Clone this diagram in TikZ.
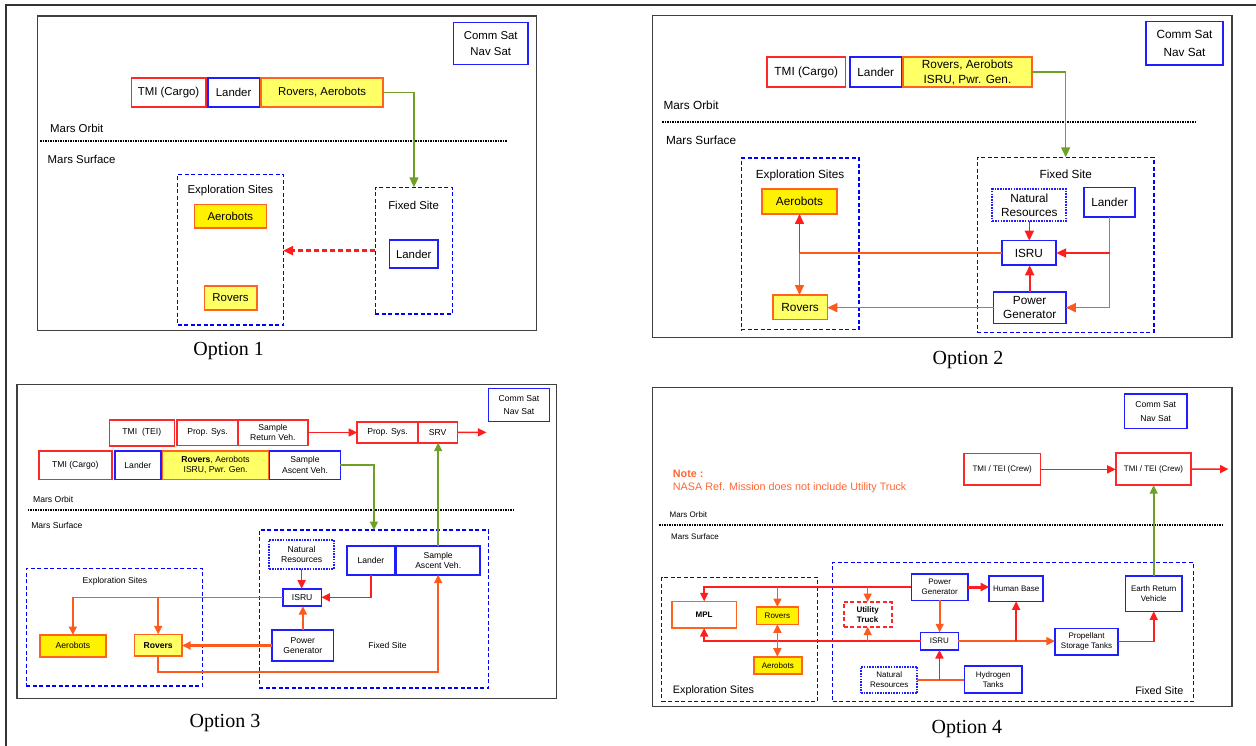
\documentclass[tikz,border=0pt]{standalone}
\usepackage{fontspec}
\setmainfont{Liberation Sans}
\newfontfamily\serfont{Liberation Serif}
\usetikzlibrary{arrows.meta,calc}
\definecolor{bred}{RGB}{255,40,40}
\definecolor{bblue}{RGB}{30,30,255}
\definecolor{sblue}{RGB}{0,0,255}
\definecolor{yorange}{RGB}{255,100,30}
\definecolor{lyellow}{RGB}{255,255,102}
\definecolor{agreen}{RGB}{110,160,40}
\definecolor{ared}{RGB}{255,30,30}
\definecolor{aorange}{RGB}{255,90,30}
\definecolor{notec}{RGB}{255,102,51}
\newcommand\fsA{\fontsize{11.4}{13.5}\selectfont}
\newcommand\fsB{\fontsize{11.8}{14}\selectfont}
\newcommand\fsC{\fontsize{8.6}{10.2}\selectfont}
\newcommand\fsD{\fontsize{8}{10}\selectfont}
\newcommand\mybox[7]{\node[#1,inner sep=0pt,outer sep=0pt,anchor=center,
  minimum width={(#5)-(#3)},minimum height={(#6)-(#4)}] (#2) at ({((#3)+(#5))/2},{((#4)+(#6))/2}) {#7};}
\begin{document}
\begin{tikzpicture}[x=1pt,y=-1pt,
 >={Triangle[length=10pt,width=9pt]},
 panel/.style={draw=black!75,line width=1.5pt},
 rb/.style={draw=bred,line width=1.6pt,align=center},
 bb/.style={draw=bblue,line width=1.6pt,align=center},
 yb/.style={draw=yorange,fill=yellow,line width=1.6pt,align=center},
 lyb/.style={draw=yorange,fill=lyellow,line width=1.6pt,align=center},
 ob/.style={draw=yorange,fill=white,line width=1.6pt,align=center},
 site/.style={draw=sblue,line width=1.3pt,dash pattern=on 4pt off 2.5pt},
 nat/.style={draw=bblue,line width=2pt,dash pattern=on 1.6pt off 1.1pt,align=center},
 orbit/.style={line width=1.7pt,dash pattern=on 1.5pt off 1pt},
 lbl/.style={inner sep=0pt,anchor=west},
 opt/.style={font=\serfont\fontsize{20}{24}\selectfont},
 ga/.style={draw=agreen,line width=1.6pt,->},
 ra/.style={draw=ared,line width=1.6pt,->},
 oa/.style={draw=aorange,line width=1.6pt,->},
 rl/.style={draw=ared,line width=1.6pt},
 ol/.style={draw=aorange,line width=1.6pt},
]
\useasboundingbox (0,0) rectangle (1256,746);
\draw[black!80,line width=1.4pt] (6,746) -- (6,5) -- (1256,5);

% ---------------- Panel 1
\begin{scope}[every node/.append style={font=\fsA}]
\draw[panel] (37.5,16) rectangle (536.4,330.7);
\mybox{bb,font=\fontsize{11.4}{16}\selectfont}{cs1}{453.6}{22.7}{527.9}{64.7}{Comm Sat\\Nav Sat}
\mybox{rb}{tmi1}{131.4}{78}{205.7}{107}{TMI (Cargo)}
\mybox{bb}{ld1}{207.9}{78}{259.3}{107}{Lander}
\mybox{lyb}{ra1}{261}{78}{383.2}{107}{Rovers, Aerobots}
\node[lbl] (mo1) at (50,128) {Mars Orbit};
\draw[orbit] (40,140.7) -- (507,140.7);
\node[lbl] (ms1) at (47.5,159) {Mars Surface};
\mybox{site}{es1}{177.5}{174.3}{283.2}{325}{}
\node (est1) at (230.4,191) {Exploration Sites};
\mybox{yb}{ae1}{194.3}{204.7}{266.4}{228.3}{Aerobots}
\mybox{lyb}{ro1}{204.3}{285.7}{256.8}{309.7}{Rovers}
\mybox{site}{fs1}{375.4}{187.3}{452.5}{314}{}
\node (fst1) at (413.6,205) {Fixed Site};
\mybox{bb}{lf1}{389.3}{240}{438.2}{268}{Lander}
\draw[ga] (ra1.east) -| (fs1.north);
\draw[draw=ared,line width=2.4pt,dash pattern=on 5pt off 3pt,->] (fs1.west) -- (fs1.west -| es1.east);
\node[opt] (o1) at (228.6,350.7) {Option 1};
\end{scope}

% ---------------- Panel 2
\begin{scope}[every node/.append style={font=\fsB}]
\draw[panel] (652.5,15.7) rectangle (1231.8,337.7);
\mybox{bb,font=\fontsize{11.8}{18}\selectfont}{cs2}{1145.8}{21.7}{1223.2}{65.3}{Comm Sat\\Nav Sat}
\mybox{rb}{tmi2}{766.9}{57}{845.6}{87}{TMI (Cargo)}
\mybox{bb}{ld2}{850}{57}{901.5}{87}{Lander}
\mybox{lyb,font=\fontsize{11.8}{15}\selectfont}{ra2}{903.2}{57}{1031.8}{87}{Rovers, Aerobots\\ISRU, Pwr. Gen.}
\node[lbl] (mo2) at (663.4,105) {Mars Orbit};
\draw[orbit] (662.2,122.3) -- (1196,122.3);
\node[lbl] (ms2) at (665.8,140) {Mars Surface};
\mybox{site}{es2}{741.3}{158}{858.9}{329.7}{}
\node (est2) at (800.1,175) {Exploration Sites};
\mybox{yb}{ae2}{762}{189.3}{837}{214}{Aerobots}
\mybox{lyb}{ro2}{773}{295}{827.3}{319.3}{Rovers}
\mybox{site}{fs2}{977.4}{157.3}{1153.9}{332.3}{}
\node (fst2) at (1065.8,174) {Fixed Site};
\mybox{nat}{nr2}{992.4}{189.3}{1066.2}{221}{Natural\\Resources}
\mybox{bb}{lf2}{1084.1}{187.7}{1135.2}{217}{Lander}
\mybox{bb}{is2}{1001.7}{240.7}{1056.1}{265.3}{ISRU}
\mybox{bb}{pg2}{993.6}{292}{1065.8}{323.3}{Power\\Generator}
\draw[ga] (ra2.east) -| (fs2.north);
\draw[ra] (nr2.south) -- (nr2.south |- is2.north);
\draw[ra] (pg2.north) -- (pg2.north |- is2.south);
\draw[oa] (lf2.south) |- (pg2.east);
\draw[ra] (lf2.south |- is2.east) -- (is2.east);
\coordinate (j2) at (is2.west -| ae2.south);
\draw[ol] (is2.west) -- (j2);
\draw[ra] (j2) -- (ae2.south);
\draw[oa] (j2) -- (j2 |- ro2.north);
\draw[oa] (pg2.west) -- (pg2.west -| ro2.east);
\node[opt] (o2) at (968,360) {Option 2};
\end{scope}

% ---------------- Panel 3
\begin{scope}[every node/.append style={font=\fsC},>={Triangle[length=8.5pt,width=8pt]}]
\draw[panel] (16.8,384.3) rectangle (556.4,698.3);
\mybox{bb,font=\fontsize{8.6}{13}\selectfont}{cs3}{488.6}{388.3}{549.3}{421.3}{Comm Sat\\Nav Sat}
\mybox{rb}{tei3}{109.3}{419.7}{174.3}{445.7}{TMI\ \ (TEI)}
\mybox{rb}{ps3}{177.1}{419.7}{237.9}{445.3}{Prop. Sys.}
\mybox{rb}{srv3}{237.9}{419.7}{307.9}{445.3}{Sample\\Return Veh.}
\mybox{rb}{psb3}{357.1}{422}{417.9}{442.7}{Prop. Sys.}
\mybox{rb}{srvb3}{417.9}{422}{457.5}{442.7}{SRV}
\coordinate (out3) at (486.4,432.35);
\draw[ra] (srv3.east) -- (srv3.east -| psb3.west);
\draw[ra] (srvb3.east) -- (out3);
\mybox{rb}{tmi3}{38.9}{450.7}{111.8}{479.3}{TMI (Cargo)}
\mybox{bb}{ld3}{115}{450.7}{160.7}{479.3}{Lander}
\mybox{lyb}{ra3}{162.5}{450.7}{268.6}{479.3}{\textbf{Rovers}, Aerobots\\ISRU, Pwr. Gen.}
\mybox{bb}{sav3}{269.6}{450.7}{340.4}{479.3}{Sample\\Ascent Veh.}
\node[lbl] (mo3) at (32.9,499) {Mars Orbit};
\draw[orbit] (27.5,510) -- (514.3,510);
\node[lbl] (ms3) at (31.1,525) {Mars Surface};
\mybox{site}{es3}{26.4}{568.3}{202.5}{686}{}
\node (est3) at (115,581) {Exploration Sites};
\mybox{yb}{ae3}{40}{635}{105.7}{656.7}{Aerobots}
\mybox{lyb}{ro3}{134.3}{634.3}{182.1}{656}{\textbf{Rovers}}
\mybox{site}{fs3}{259.3}{530}{488.6}{688}{}
\node (fst3) at (387.5,645) {Fixed Site};
\mybox{nat}{nr3}{269.3}{539.7}{333.9}{568.7}{Natural\\Resources}
\mybox{bb}{lf3}{346.8}{546}{395}{574.7}{Lander}
\mybox{bb}{savb3}{396.4}{546}{480}{574.7}{Sample\\Ascent Veh.}
\mybox{bb}{is3}{282.9}{588.7}{321.4}{606}{ISRU}
\mybox{bb}{pg3}{272.1}{630}{333.6}{661}{Power\\Generator}
\draw[ga] (sav3.east) -| (fs3.north);
\draw[ga] (savb3.north) -- (savb3.north |- srvb3.south);
\draw[ra] (nr3.south) -- (nr3.south |- is3.north);
\draw[ra] (lf3.south) |- (is3.east);
\draw[oa] (pg3.north) -- (pg3.north |- is3.south);
\draw[oa] (is3.west) -| (ae3.north);
\draw[oa] (is3.west -| ro3.north) -- (ro3.north);
\draw[oa,line width=2.4pt] (pg3.west) -- (pg3.west -| ro3.east);
\coordinate (b3) at (438.2,671.7);
\draw[oa] (ro3.south) |- (b3) -- (savb3.south);
\node[opt] (o3) at (225,723.3) {Option 3};
\end{scope}

% ---------------- Panel 4
\begin{scope}[every node/.append style={font=\fsD},>={Triangle[length=8.5pt,width=8pt]}]
\draw[panel] (652.5,387.7) rectangle (1231.8,706.7);
\mybox{bb,font=\fontsize{8.6}{14}\selectfont}{cs4}{1124.3}{394}{1187.1}{428.3}{Comm Sat\\Nav Sat}
\node[lbl,text=notec,font=\fontsize{10.8}{13}\selectfont\bfseries] (n4a) at (672.7,474.3) {Note :};
\node[lbl,text=notec,font=\fontsize{10.8}{13}\selectfont] (n4b) at (672.7,487.3) {NASA Ref. Mission does not include Utility Truck};
\mybox{rb}{t41}{964}{453.5}{1040.3}{485.2}{TMI / TEI (Crew)}
\mybox{rb}{t42}{1115.7}{453}{1191.2}{485.2}{TMI / TEI (Crew)}
\coordinate (out4) at (1228.5,469.1);
\draw[ra] (t41.east) -- (t41.east -| t42.west);
\draw[ra] (t42.east) -- (out4);
\node[lbl] (mo4) at (669.5,515) {Mars Orbit};
\draw[orbit] (659,524.7) -- (1222,524.7);
\node[lbl] (ms4) at (671,537) {Mars Surface};
\mybox{site}{es4}{661.8}{577.3}{817.6}{701.3}{}
\node[lbl,font=\fontsize{10.8}{13}\selectfont] (est4) at (672.7,690.3) {Exploration Sites};
\mybox{site}{fs4}{832.6}{562.3}{1193.2}{701.7}{}
\node[inner sep=0pt,anchor=east,font=\fontsize{10.8}{13}\selectfont] (fst4) at (1183.5,691) {Fixed Site};
\mybox{ob}{mpl}{671.9}{601.3}{736.4}{628}{\textbf{MPL}}
\mybox{yb}{ro4}{756.3}{607}{798.5}{624.3}{Rovers}
\mybox{yb}{ae4}{753.9}{656.7}{801.7}{674}{Aerobots}
\mybox{rb,line width=2pt,dash pattern=on 4pt off 2.5pt}{ut}{843.5}{602}{891.8}{626.7}{\textbf{Utility}\\\textbf{Truck}}
\mybox{bb}{pg4}{911.3}{573.7}{968.1}{600.3}{Power\\Generator}
\mybox{bb}{hb}{989.2}{575.7}{1043.1}{601.3}{Human Base}
\mybox{bb}{erv}{1125.5}{575.7}{1181.9}{611.3}{Earth Return\\Vehicle}
\mybox{bb}{is4}{920.6}{632.3}{958.3}{650}{ISRU}
\mybox{bb}{pst}{1054.9}{628.3}{1118.2}{655}{Propellant\\Storage Tanks}
\mybox{nat}{nr4}{861}{666.7}{917.4}{693.3}{Natural\\Resources}
\mybox{bb}{h2}{964.4}{665.7}{1022}{692.7}{Hydrogen\\Tanks}
\draw[ga] (erv.north) -- (erv.north |- t42.south);
\draw[ra] (pg4.west) -| (mpl.north);
\draw[oa] (pg4.west -| ro4.north) -- (ro4.north);
\draw[oa] (pg4.west -| ut.north) -- (ut.north);
\draw[ra,line width=3pt] (pg4.east) -- (pg4.east -| hb.west);
\draw[oa] (pg4.south) -- (pg4.south |- is4.north);
\draw[ra] (is4.west) -| (mpl.south);
\draw[oa] (is4.west -| ut.south) -- (ut.south);
\draw[draw=aorange,line width=1.6pt,<->] (ro4.south) -- (ro4.south |- ae4.north);
\draw[oa] (is4.east) -- (is4.east -| pst.west);
\draw[ra] (is4.east -| hb.south) -- (hb.south);
\draw[ra] (pst.east) -| (erv.south);
\draw[ol] (nr4.east) -- (nr4.east -| h2.west);
\draw[ra] (nr4.east -| is4.south) -- (is4.south);
\node[opt] (o4) at (966.9,729) {Option 4};
\end{scope}
\end{tikzpicture}
\end{document}
